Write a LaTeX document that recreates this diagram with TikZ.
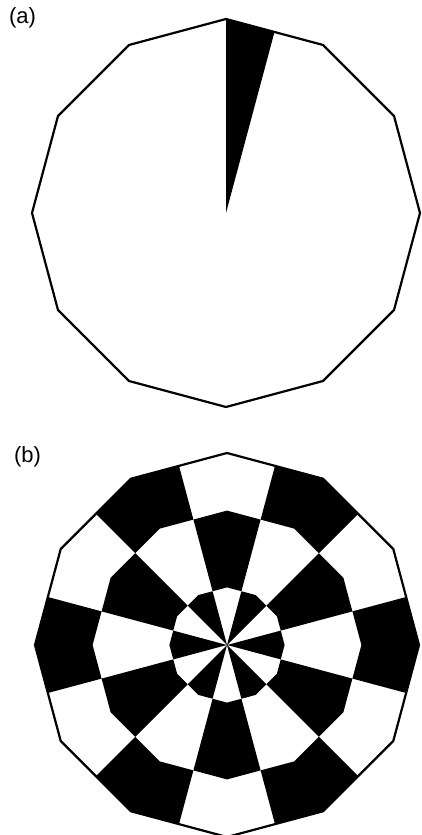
\documentclass[tikz,border=0pt]{standalone}
\usepackage{fontspec}
\setmainfont{Liberation Sans}
\begin{document}
\begin{tikzpicture}[x=1pt, y=1pt, line width=2.2pt,
    panellabel/.style={anchor=west, inner sep=0pt, font=\fontsize{22}{26}\selectfont}]
  \useasboundingbox (0,0) rectangle (422,835);
  % panel (a): one half-sector shaded
  \node[panellabel] (labA) at (8,817) {(a)};
  \begin{scope}[shift={(226,622)}]
    \fill (0,0) -- (90:194) -- (75:{194*cos(15)}) -- cycle;
    \draw (90:194) \foreach \a in {120,150,...,420} { -- (\a:194) } -- cycle;
  \end{scope}
  % panel (b): three rings, twelve sectors
  \node[panellabel] (labB) at (13,378) {(b)};
  \begin{scope}[shift={(227,190)}]
    \foreach \i in {0,...,11} {
      \foreach \k/\ri/\ro in {0/0/0.3, 1/0.3/0.7, 2/0.7/1} {
        \pgfmathtruncatemacro\odd{mod(\i+\k,2)}
        \ifnum\odd=0
          \fill ({30*\i-15}:{192*\ro*cos(15)}) -- ({30*\i}:{192*\ro})
            -- ({30*\i+15}:{192*\ro*cos(15)}) -- ({30*\i+15}:{192*\ri*cos(15)})
            -- ({30*\i}:{192*\ri}) -- ({30*\i-15}:{192*\ri*cos(15)}) -- cycle;
        \fi
      }
    }
    \draw (90:192) \foreach \a in {120,150,...,420} { -- (\a:192) } -- cycle;
  \end{scope}
\end{tikzpicture}
\end{document}
